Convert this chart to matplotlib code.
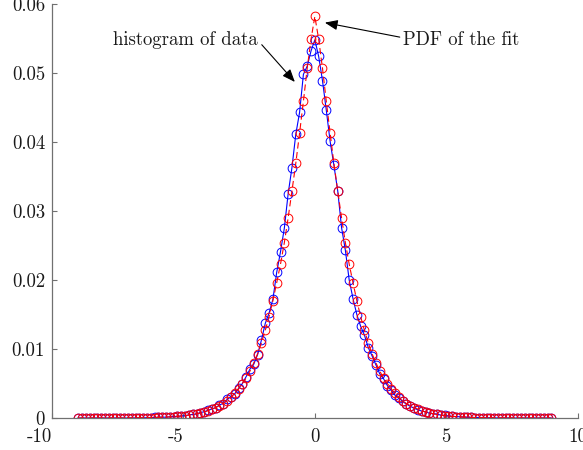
import numpy as np
import matplotlib
matplotlib.use("Agg")
import matplotlib.pyplot as plt

plt.rcParams['font.family'] = ['cmr10', 'DejaVu Serif']
plt.rcParams['mathtext.fontset'] = 'cm'
plt.rcParams['axes.unicode_minus'] = False
plt.rcParams['lines.scale_dashes'] = False

# bin centres: 125 uniform bins from -9 to 9
x_first, x_last, n_bins = -9.0, 9.0, 125

hist_values = [
    0, 0, 0, 0, 0, 0, 0, 0, 0, 0, 0, 0, 0, 0, 0.00001, 0,
    0.00003, 0.00002, 0.00005, 0.00004, 0.00008, 0.00010, 0.00012, 0.00011, 0.00017, 0.00021,
    0.00023, 0.00031, 0.00033, 0.00046, 0.00052, 0.00060, 0.00079, 0.00090, 0.00112, 0.00131,
    0.00150, 0.00190, 0.00210, 0.00270, 0.00310, 0.00350, 0.00430, 0.00500, 0.00600, 0.00710,
    0.00780, 0.00920, 0.01130, 0.01370, 0.01520, 0.0172, 0.0211, 0.0241, 0.0275, 0.0325,
    0.0363, 0.0411, 0.0443, 0.0498, 0.0510, 0.0532,
    0.0548,
    0.0524, 0.0489, 0.0446, 0.0401, 0.0366, 0.0329, 0.0276, 0.0243, 0.0200, 0.0173,
    0.0150, 0.0133, 0.0120, 0.0102, 0.0090, 0.0077, 0.0064, 0.0057, 0.0047, 0.0040,
    0.0033, 0.0029, 0.0024, 0.0020, 0.0017, 0.0014, 0.0012, 0.0010, 0.0009, 0.0007,
    0.0006, 0.0006, 0.0004, 0.0004, 0.0003, 0.00024, 0.0002, 0.00018, 0.00012, 0.0001,
    0.00009, 0.00006, 0.00007, 0.00004, 0.00003, 0.00004, 0.00002, 0.00001, 0.00002, 0,
    0.00001, 0, 0, 0, 0, 0, 0, 0, 0, 0, 0, 0,
]

fit_values = [
    0, 0, 0, 0, 0, 0, 0,
    0.00001, 0.00001, 0.00001, 0.00001, 0.00001,
    0.00002, 0.00002, 0.00002, 0.00003, 0.00003,
    0.00004, 0.00005, 0.00006, 0.00007, 0.00009, 0.00011,
    0.00013, 0.00016, 0.00020, 0.00024, 0.00029, 0.00035, 0.00042, 0.00051, 0.00061, 0.00073,
    0.00088, 0.00105, 0.0013, 0.0015, 0.0018, 0.0021, 0.0025, 0.0030, 0.0036, 0.0042,
    0.0050, 0.0058, 0.0068, 0.0080, 0.0093, 0.0109, 0.0127, 0.0147, 0.0170, 0.0196,
    0.0223, 0.0254, 0.0290, 0.0329, 0.0369, 0.0413, 0.0459, 0.0507, 0.0549,
    0.0582,
    0.0549, 0.0507, 0.0459, 0.0413, 0.0369, 0.0329, 0.0290, 0.0254, 0.0223, 0.0196,
    0.0170, 0.0147, 0.0127, 0.0109, 0.0093, 0.0080, 0.0068, 0.0058, 0.0050, 0.0042,
    0.0036, 0.0030, 0.0025, 0.0021, 0.0018, 0.0015, 0.0013, 0.00105, 0.00088, 0.00073,
    0.00061, 0.00051, 0.00042, 0.00035, 0.00029, 0.00024, 0.00020, 0.00016, 0.00013, 0.00011,
    0.00009, 0.00007, 0.00006, 0.00005, 0.00004, 0.00003, 0.00003, 0.00002, 0.00002, 0.00002,
    0.00001, 0.00001, 0.00001, 0.00001, 0.00001, 0, 0, 0, 0, 0, 0, 0,
]

xticks = [-10, -5, 0, 5, 10]
xtick_labels = ['-10', '-5', '0', '5', '10']
yticks = [0, 0.01, 0.02, 0.03, 0.04, 0.05, 0.06]
ytick_labels = ['0', '0.01', '0.02', '0.03', '0.04', '0.05', '0.06']

label_hist = 'histogram of data'
label_fit = 'PDF of the fit'

x = np.linspace(x_first, x_last, n_bins)

fig = plt.figure(figsize=(5.83, 4.5), dpi=100)
ax = fig.add_axes([52 / 583, 32 / 450, (577.7 - 52) / 583, (418 - 4) / 450])

ax.plot(x, hist_values, '-', color='#0000ff', lw=0.8, marker='o', ms=6.3,
        mfc='none', mec='#0000ff', mew=0.7)
ax.plot(x, fit_values, color='#ff0000', lw=0.8, dashes=(4.5, 2.5), marker='o', ms=6.3,
        mfc='none', mec='#ff0000', mew=0.7)

ax.set_xlim(-10, 10)
ax.set_ylim(0, 0.06)

for s in ['top', 'right']:
    ax.spines[s].set_visible(False)
for s in ['left', 'bottom']:
    ax.spines[s].set_color('#707070')
    ax.spines[s].set_linewidth(0.9)

ax.set_xticks(xticks)
ax.set_xticklabels(xtick_labels)
ax.set_yticks(yticks)
ax.set_yticklabels(ytick_labels)
ax.tick_params(direction='in', length=3.6, width=0.8, color='#707070',
               labelsize=13.5, labelcolor='#1a1a1a')
ax.tick_params(axis='y', pad=5)
ax.tick_params(axis='x', pad=7)
for lbl in ax.get_xticklabels():
    if lbl.get_text().startswith('-'):
        lbl.set_horizontalalignment('right')

arrow_kw = dict(arrowstyle='-|>,head_length=0.55,head_width=0.22', color='k',
                lw=0.8, mutation_scale=14, shrinkA=0, shrinkB=0)
ax.annotate('', xy=(-0.76, 0.0487), xytext=(-2.02, 0.0541), arrowprops=arrow_kw)
ax.annotate('', xy=(0.38, 0.0573), xytext=(3.23, 0.0552), arrowprops=arrow_kw)
ax.text(-7.68, 0.0541, label_hist, ha='left', va='baseline', fontsize=13.5, color='#1a1a1a')
ax.text(3.37, 0.0541, label_fit, ha='left', va='baseline', fontsize=13.5, color='#1a1a1a')

fig.savefig('out.png', dpi=100)
